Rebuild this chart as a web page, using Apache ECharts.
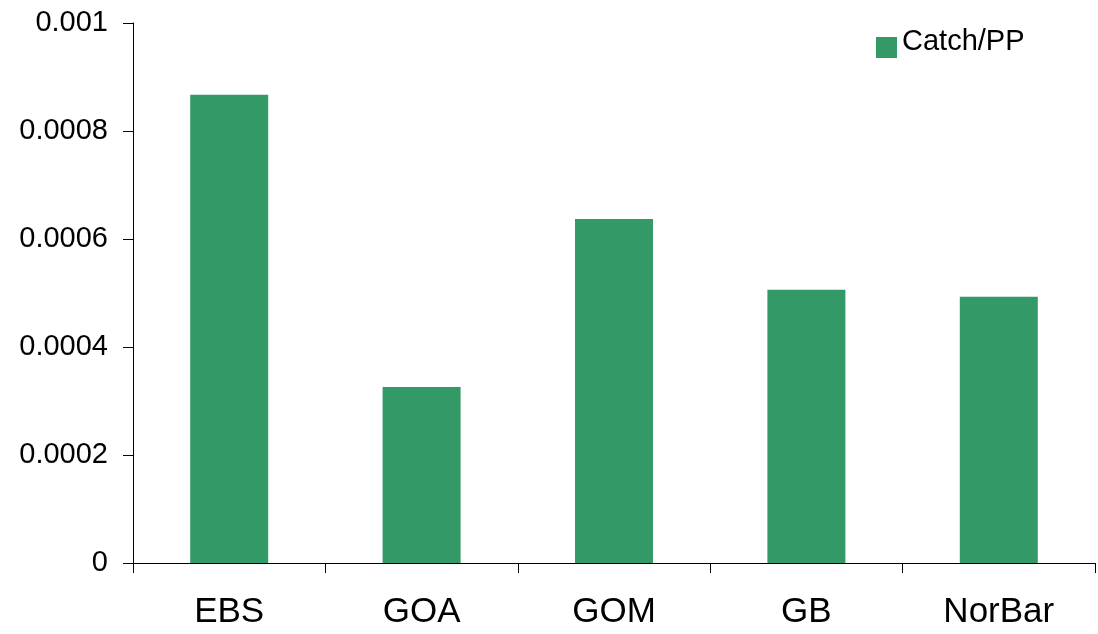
<!DOCTYPE html>
<html>
<head>
<meta charset="utf-8">
<style>
  html, body { margin: 0; padding: 0; background: #fff; }
  #chart { width: 1098px; height: 634px; }
</style>
<script src="https://cdn.jsdelivr.net/npm/echarts@6/dist/echarts.min.js"></script>
</head>
<body>
<div id="chart"></div>
<script>
// Regions and catch-to-primary-production ratios
const regions = ['EBS', 'GOA', 'GOM', 'GB', 'NorBar'];
const catchPerPP = [0.000867, 0.000326, 0.000637, 0.000506, 0.000493];
const seriesName = 'Catch/PP';
const yMin = 0;
const yMax = 0.001;
const yStep = 0.0002;

const font = 'Arial, "Liberation Sans", sans-serif';
const chart = echarts.init(document.getElementById('chart'));

chart.setOption({
  animation: false,
  backgroundColor: '#ffffff',
  grid: { left: 133, right: 3, top: 23, bottom: 71, containLabel: false },
  legend: {
    left: 876,
    top: 27,
    padding: 0,
    itemWidth: 21,
    itemHeight: 21,
    itemGap: 10,
    icon: 'rect',
    // legend label sits a little above the centre of its swatch
    formatter: name => '{t|' + name + '}{s| }',
    textStyle: {
      fontFamily: font, fontSize: 29, color: '#000',
      rich: {
        t: { fontFamily: font, fontSize: 29, color: '#000', lineHeight: 29, verticalAlign: 'top' },
        s: { fontSize: 1, lineHeight: 41, width: 0 }
      }
    },
    data: [seriesName]
  },
  xAxis: {
    type: 'category',
    data: regions,
    axisLine: { lineStyle: { color: '#000', width: 1 } },
    axisTick: { show: true, length: 10, lineStyle: { color: '#000' } },
    axisLabel: { fontFamily: font, fontSize: 35, color: '#000', margin: 32 },
    splitLine: { show: false }
  },
  yAxis: {
    type: 'value',
    min: yMin,
    max: yMax,
    interval: yStep,
    axisLine: { show: true, lineStyle: { color: '#000', width: 1 } },
    axisTick: { show: true, length: 10, lineStyle: { color: '#000' } },
    axisLabel: {
      fontFamily: font, fontSize: 29, color: '#000', margin: 25,
      formatter: v => String(parseFloat(v.toPrecision(6)))
    },
    splitLine: { show: false }
  },
  series: [{
    name: seriesName,
    type: 'bar',
    data: catchPerPP,
    barWidth: 78,
    itemStyle: { color: '#339966' }
  }]
});
</script>
</body>
</html>
